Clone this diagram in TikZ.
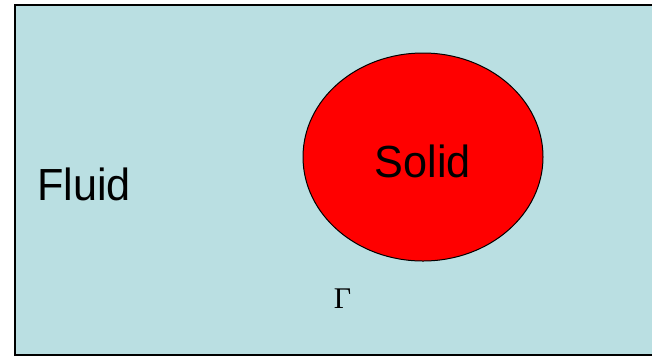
\documentclass[tikz,border=0pt]{standalone}
\usepackage{fontspec}
\setmainfont{Liberation Sans}
\newfontfamily\gammafont{Liberation Serif}
\usepackage{xcolor}
\usepackage{tikz}
\usetikzlibrary{shapes.geometric}
\definecolor{fluidblue}{RGB}{186,223,226}
\definecolor{solidred}{RGB}{255,0,0}
\tikzset{
    bigtext/.style={font=\fontsize{45}{45}\selectfont, anchor=base, inner sep=0pt, xscale=0.96},
    solidbody/.style={ellipse, draw=black, fill=solidred, line width=1pt, minimum width=240pt, minimum height=208pt, inner sep=0pt}
}

\begin{document}
\begin{tikzpicture}[x=1pt,y=-1pt]
            \useasboundingbox (0,0) rectangle (652,357);

            \begin{scope}
                \fill[fluidblue] (15,5) rectangle (652,355);
                \draw[line width=2pt] (652,5) -- (15,5) -- (15,355) -- (652,355);
            \end{scope}

            \node[solidbody] (solid) at (423,157) {};

            \node[bigtext] (solidlabel) at (423,177) {Solid};
            \node[bigtext] (fluidlabel) at (84,200) {Fluid};

            \node[anchor=base, inner sep=0pt, font=\gammafont\fontsize{30}{30}\selectfont] (gamma) at (342.5,308) {Γ};
        \end{tikzpicture}
\end{document}
